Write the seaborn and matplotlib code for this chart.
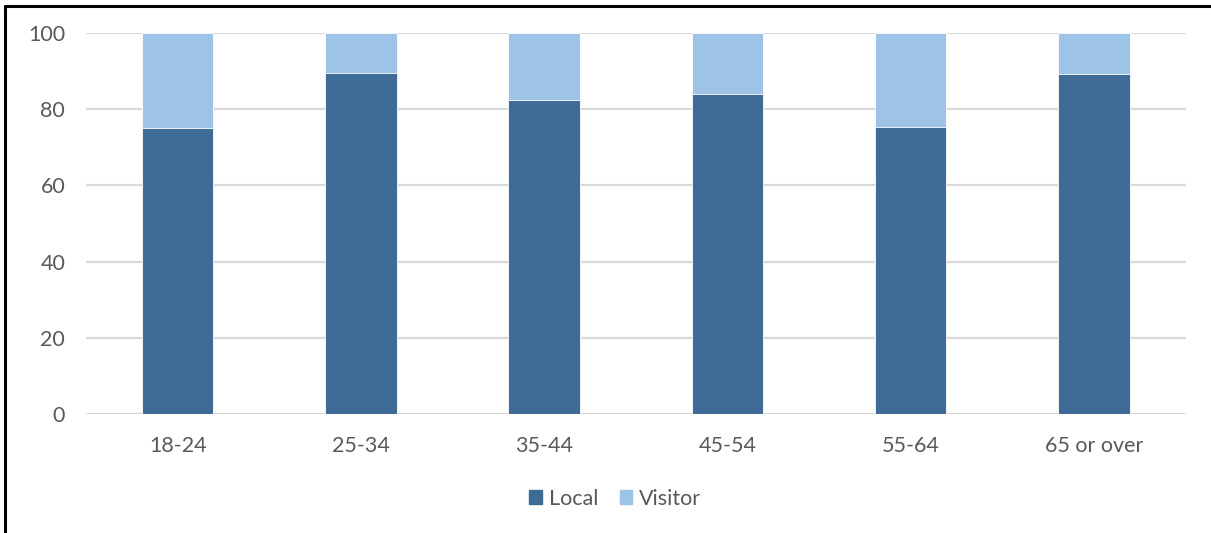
import pandas as pd
import numpy as np
import matplotlib.pyplot as plt
import seaborn as sns
from matplotlib.lines import Line2D
from matplotlib.patches import Patch

age_groups = ["18-24", "25-34", "35-44", "45-54", "55-64", "65 or over"]
local = [75.0, 89.5, 82.3, 83.9, 75.2, 89.3]
visitor = [25.0, 10.5, 17.7, 16.1, 24.8, 10.7]

dark = "#3F6C96"
light = "#9DC3E6"
grey_txt = "#595959"

df = pd.DataFrame({"age": age_groups, "Local": local, "Visitor": visitor})
df["total"] = df["Local"] + df["Visitor"]

sns.set_style("white")
plt.rcParams["font.family"] = ["Lato", "DejaVu Sans"]

fig = plt.figure(figsize=(12.11, 5.33), dpi=100)
ax = fig.add_axes([0.071, 0.2233, 0.908, 0.7148])

sns.barplot(data=df, x="age", y="total", color=light, width=0.39,
            saturation=1, edgecolor="white", linewidth=0.6, ax=ax)
sns.barplot(data=df, x="age", y="Local", color=dark, width=0.39,
            saturation=1, edgecolor="white", linewidth=0.6, ax=ax)

ax.set_ylim(0, 100)
ax.set_xlim(-0.5, len(age_groups) - 0.5)
ax.set_yticks(np.arange(0, 101, 20))
ax.yaxis.grid(True, color="#D9D9D9", linewidth=1.6)
ax.set_axisbelow(True)
for s in ax.spines.values():
    s.set_visible(False)
ax.set_xlabel("")
ax.set_ylabel("")
ax.tick_params(axis="y", length=0, pad=15, labelsize=15.5, labelcolor=grey_txt)
ax.tick_params(axis="x", length=0, pad=16, labelsize=15.5, labelcolor=grey_txt)

handles = [Patch(color=dark, label="Local"), Patch(color=light, label="Visitor")]
fig.legend(handles=handles, loc="center", bbox_to_anchor=(0.508, 0.064), ncol=2,
           frameon=False, fontsize=15.5, labelcolor=grey_txt, handlelength=0.6,
           handleheight=0.6, handletextpad=0.3, columnspacing=1.0)

# frame lines visible at top and left of the reference image
fig.add_artist(Line2D([0.0045, 0.0045], [0, 0.989], color="black", lw=2.2, transform=fig.transFigure))
fig.add_artist(Line2D([0.0045, 1.0], [0.989, 0.989], color="black", lw=2.2, transform=fig.transFigure))

fig.savefig("out.png", dpi=100)
